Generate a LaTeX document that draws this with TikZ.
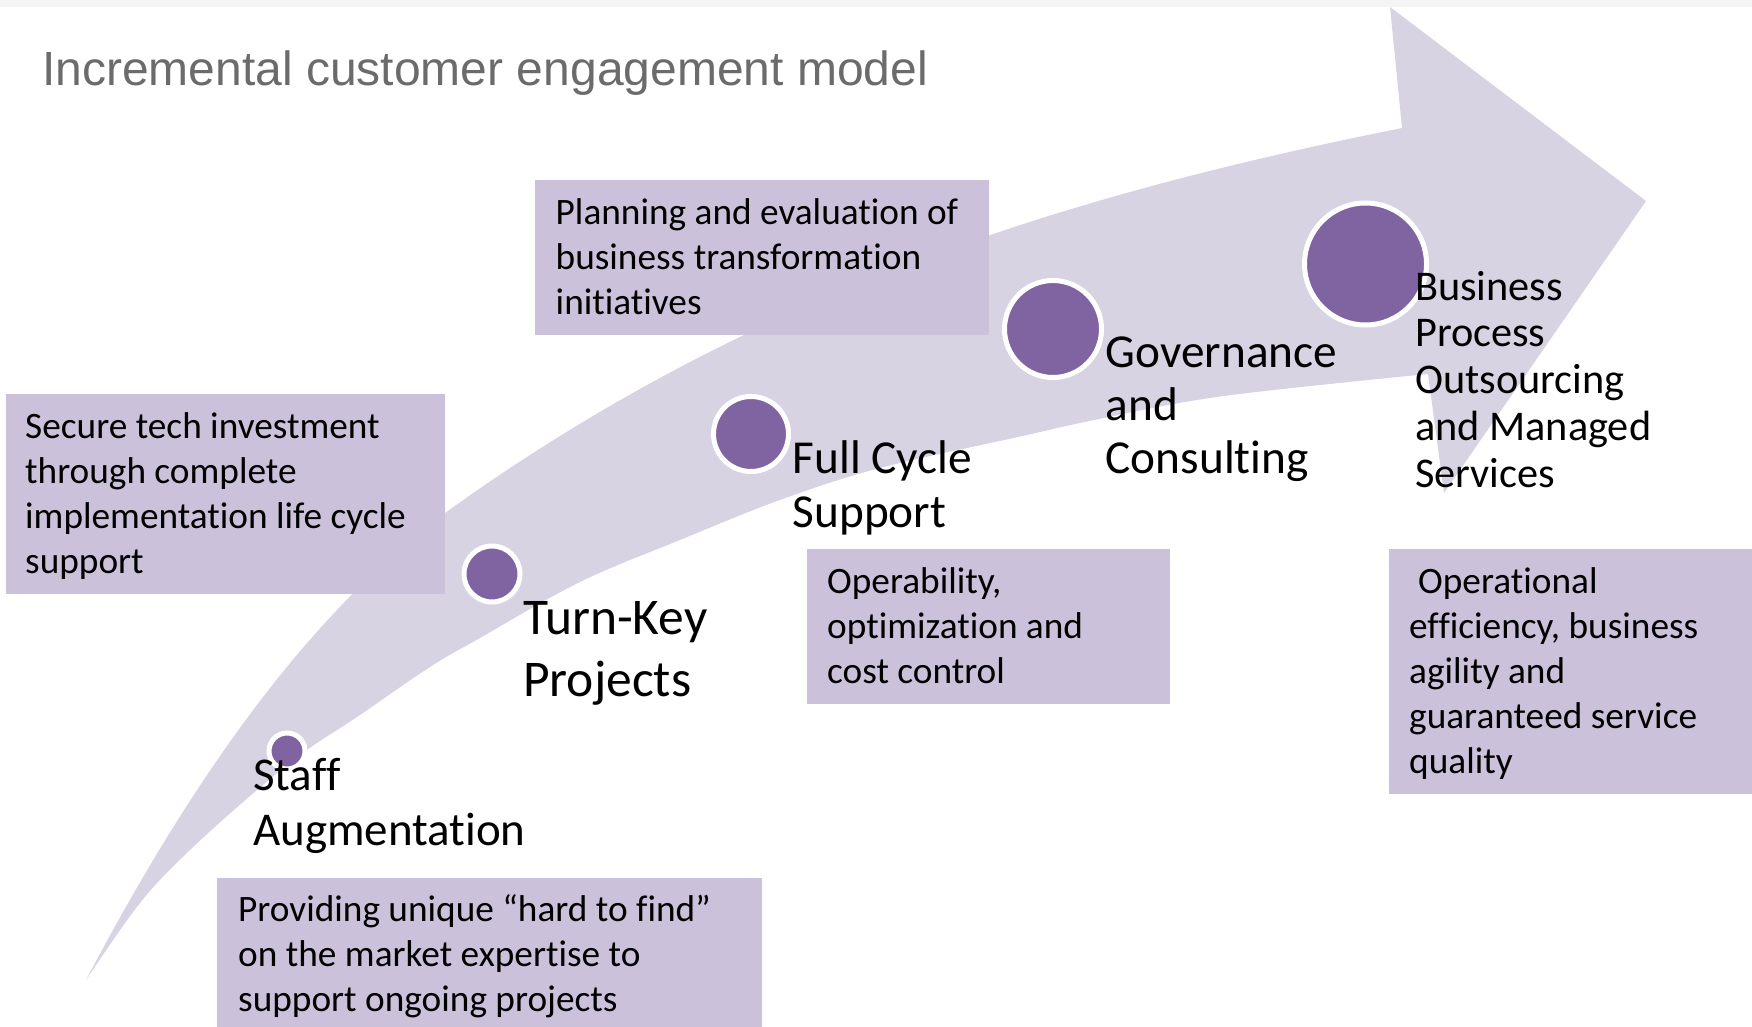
\documentclass[tikz,border=0pt]{standalone}
\usepackage{fontspec}
\setmainfont[Ligatures={NoCommon,NoContextual}]{Carlito}
\newfontfamily\titlefont{Liberation Sans}
\definecolor{arrowc}{HTML}{D8D3E3}
\definecolor{boxc}{HTML}{CCC1DA}
\definecolor{dotc}{HTML}{8064A2}
\definecolor{titlec}{HTML}{6B6B6B}
\definecolor{bandc}{HTML}{F4F4F4}
\newcommand{\mylines}[1]{\begin{tabular}[t]{@{}l@{}}#1\end{tabular}}
\begin{document}
\begin{tikzpicture}[x=1pt,y=-1pt,
  box/.style={fill=boxc, draw=none, inner sep=0pt, anchor=north west},
  boxtext/.style={anchor=base west, inner sep=0pt, font=\fontsize{37.3}{45}\selectfont},
  dotnode/.style={circle, fill=dotc, draw=white, line width=5pt, inner sep=0pt},
  lbl/.style={anchor=base west, inner sep=0pt}]
\useasboundingbox (0,0) rectangle (1752,1027);
\fill[bandc] (0,0) rectangle (1752,6.7);
% title
\node[anchor=base west, inner sep=0pt, text=titlec, font=\titlefont\fontsize{48}{58}\selectfont] (title) at (42,86) {Incremental customer engagement model};
% big curved arrow
\fill[arrowc] (86,980) .. controls (226,714) and (345,588) .. (445,513)
  .. controls (745,297) and (1052,198) .. (1402,128)
  -- (1390,7) -- (1646,201) -- (1444,493) -- (1428,374)
  -- plot[smooth, tension=0.6] coordinates {(1428,374) (1224,396) (1104,418) (1018,437) (880,468) (780,500) (680,540) (580,582) (480,638) (430,667) (357,717) (307,750) (257,790) (190,850) (140,903) (86,980)} -- cycle;
% boxes
\node[box, minimum width=454pt, minimum height=155pt] (bplan) at (535,180) {};
\node[box, minimum width=439pt, minimum height=200pt] (bsec) at (6,394) {};
\node[box, minimum width=363pt, minimum height=155pt] (bope) at (807,549) {};
\node[box, minimum width=363pt, minimum height=245pt] (bopl) at (1389,549) {};
\node[box, minimum width=545pt, minimum height=149pt] (bprov) at (217,878) {};
% box texts
\node[boxtext] (tplan) at (555.5,224.3) {\mylines{Planning and evaluation of\\business transformation\\initiatives}};
\node[boxtext] (tsec) at (25,438) {\mylines{Secure tech investment\\through complete\\implementation life cycle\\support}};
\node[boxtext] (tope) at (827,593) {\mylines{Operability,\\optimization and\\cost control}};
\node[boxtext] (topl) at (1409,593) {\mylines{\hspace{9pt}Operational\\efficiency, business\\agility and\\guaranteed service\\quality}};
\node[boxtext] (tprov) at (238,921.7) {\mylines{Providing unique “hard to find”\\on the market expertise to\\support ongoing projects}};
% dots
\node[dotnode, minimum size=36pt] (dstaff) at (287,751) {};
\node[dotnode, minimum size=56pt] (dturn) at (492,574) {};
\node[dotnode, minimum size=75pt] (dfull) at (751,434) {};
\node[dotnode, minimum size=97pt] (dgov) at (1053,329) {};
\node[dotnode, minimum size=122pt] (dbpo) at (1365.5,264) {};
% labels
\node[lbl, font=\fontsize{47}{54.5}\selectfont] (lstaff) at (253,790.5) {\mylines{Staff\\Augmentation}};
\node[lbl, font=\fontsize{51.5}{62.7}\selectfont] (lturn) at (523,634) {\mylines{Turn-Key\\Projects}};
\node[lbl, font=\fontsize{47.3}{54}\selectfont] (lfull) at (792.5,473) {\mylines{Full Cycle\\Support}};
\node[lbl, font=\fontsize{47.3}{52.8}\selectfont] (lgov) at (1105.5,367.5) {\mylines{Governance\\and\\Consulting}};
\node[lbl, font=\fontsize{42.3}{46.8}\selectfont] (lbpo) at (1415,300) {\mylines{Business\\Process\\Outsourcing\\and Managed\\Services}};
\end{tikzpicture}
\end{document}
